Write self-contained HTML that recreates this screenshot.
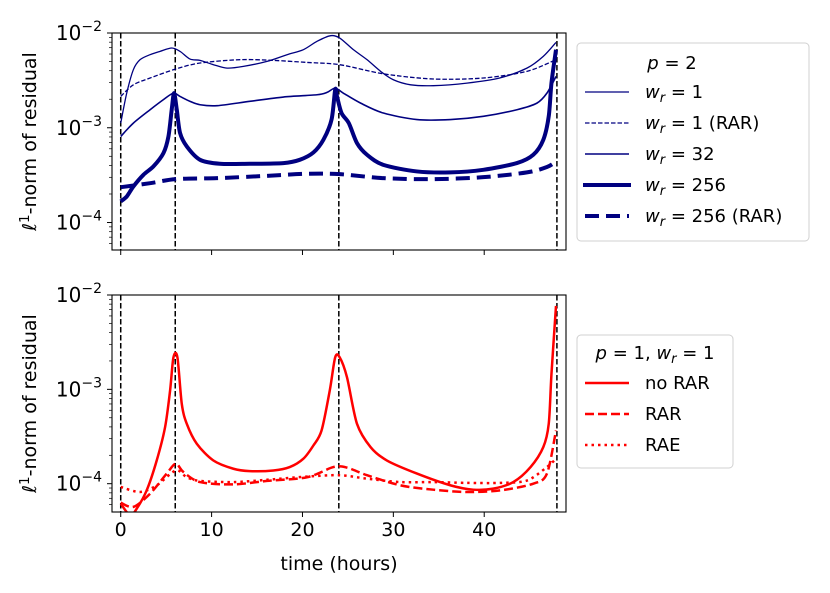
<!DOCTYPE html>
<html><head><meta charset="utf-8"><style>
html,body{margin:0;padding:0;background:#fff;}
svg{display:block;font-family:"DejaVu Sans","Liberation Sans",sans-serif;}
</style></head><body>
<svg id="chart" width="830" height="593" viewBox="0 0 830 593" xmlns="http://www.w3.org/2000/svg"></svg>
<script>
// ---- data (time in hours, residual values) ----
const vlines = [0, 6, 24, 48];
const xTicks = [0, 10, 20, 30, 40];
const yDecades = [-4, -3, -2];

const aH = [0,0.66,1.39,2.13,3.23,4.33,5.61,6.53,7.63,8.73,10.2,11.7,13.5,16.1,18.3,20.1,21.6,23.1,24.1,25.6,27.1,28.6,30.0,31.9,34.4,38.1,41.7,44.7,46.5,47.9];
const aV = [1.12e-3,2.32e-3,4.10e-3,5.23e-3,5.90e-3,6.40e-3,6.95e-3,6.40e-3,5.31e-3,5.14e-3,4.63e-3,4.26e-3,4.44e-3,5.02e-3,5.90e-3,6.67e-3,8.17e-3,9.37e-3,8.85e-3,6.67e-3,5.23e-3,3.94e-3,3.21e-3,2.84e-3,2.78e-3,2.96e-3,3.35e-3,4.26e-3,5.67e-3,7.96e-3];
const bH = [0,1.39,3.23,6.06,8.73,13.1,16.8,20.5,24.1,28.9,34.4,39.9,44.7,47.9];
const bV = [2.14e-3,2.84e-3,3.35e-3,4.17e-3,4.82e-3,5.23e-3,5.14e-3,4.89e-3,4.63e-3,3.71e-3,3.27e-3,3.35e-3,3.94e-3,5.23e-3];
const cH = [0,1.39,3.23,4.70,5.80,6.53,7.63,8.73,10.6,14.2,17.9,21.6,22.7,23.6,24.5,26.4,28.9,32.6,36.3,39.9,43.6,45.8,46.9,47.9];
const cV = [8.09e-4,1.12e-3,1.55e-3,1.98e-3,2.32e-3,2.14e-3,1.90e-3,1.75e-3,1.71e-3,1.90e-3,2.11e-3,2.23e-3,2.36e-3,2.62e-3,2.32e-3,1.82e-3,1.43e-3,1.22e-3,1.22e-3,1.32e-3,1.55e-3,1.82e-3,2.32e-3,3.48e-3];
const dH = [0,0.66,1.39,2.50,3.60,4.70,5.25,5.61,5.87,6.17,6.53,7.27,8.73,10.9,14.2,17.9,19.7,21.2,22.3,23.2,23.6,23.8,24.3,25.1,26.0,27.1,28.9,32.6,36.3,39.9,43.6,45.4,46.5,47.1,47.4,47.9];
const dV = [1.67e-4,1.88e-4,2.40e-4,3.19e-4,3.91e-4,5.40e-4,8.09e-4,1.55e-3,2.32e-3,1.55e-3,8.80e-4,6.35e-4,4.59e-4,4.17e-4,4.17e-4,4.24e-4,4.59e-4,5.48e-4,7.46e-4,1.22e-3,2.52e-3,2.14e-3,1.43e-3,1.12e-3,6.89e-4,5.19e-4,4.06e-4,3.46e-4,3.38e-4,3.60e-4,4.24e-4,5.19e-4,7.46e-4,1.32e-3,2.96e-3,6.67e-3];
const eH = [0,3.23,6.06,10.6,16.1,20.5,24.1,28.9,34.4,39.9,44.7,46.9,47.9];
const eV = [2.36e-4,2.60e-4,2.87e-4,2.94e-4,3.11e-4,3.27e-4,3.24e-4,2.94e-4,2.87e-4,3.01e-4,3.38e-4,3.85e-4,4.41e-4];

const nrH = [0,1.03,1.76,2.86,3.96,4.88,5.43,5.80,6.24,6.72,7.27,8.37,10.2,12.4,14.2,16.8,18.6,20.1,21.2,22.1,23.0,23.6,24.1,24.9,26.0,27.5,29.3,32.6,36.3,38.8,41.0,43.2,45.1,46.5,47.1,47.4,47.9];
const nrV = [6.15e-5,4.62e-5,5.44e-5,8.51e-5,1.76e-4,3.97e-4,9.68e-4,2.18e-3,2.18e-3,7.00e-4,4.31e-4,2.65e-4,1.76e-4,1.44e-4,1.36e-4,1.38e-4,1.50e-4,1.84e-4,2.54e-4,3.66e-4,9.68e-4,2.18e-3,2.18e-3,1.34e-3,4.31e-4,2.44e-4,1.76e-4,1.28e-4,9.60e-5,8.64e-5,8.86e-5,1.04e-4,1.50e-4,2.44e-4,4.31e-4,1.45e-3,7.66e-3];
const rarH = [0,1.39,3.23,5.06,6.06,6.90,8.73,12.4,16.1,20.5,23.4,24.9,27.1,30.8,34.4,38.1,41.8,45.4,46.9,47.9];
const rarV = [6.30e-5,5.68e-5,7.84e-5,1.28e-4,1.63e-4,1.33e-4,1.04e-4,9.84e-5,1.07e-4,1.17e-4,1.50e-4,1.48e-4,1.23e-4,9.60e-5,8.64e-5,8.17e-5,8.51e-5,1.00e-4,1.28e-4,3.66e-4];
const raeH = [0,2.13,3.96,6.06,7.27,8.73,12.4,16.1,20.5,24.1,27.1,30.8,34.4,38.1,41.8,44.7,46.9,47.9];
const raeV = [9.23e-5,8.17e-5,9.60e-5,1.38e-4,1.17e-4,1.07e-4,1.04e-4,1.10e-4,1.19e-4,1.23e-4,1.13e-4,1.04e-4,1.04e-4,1.02e-4,1.02e-4,1.08e-4,1.50e-4,1.84e-4];

const NS = 'http://www.w3.org/2000/svg';
const svg = document.getElementById('chart');
function mk(tag, attrs, parent){const e=document.createElementNS(NS,tag);for(const k in attrs)e.setAttribute(k,attrs[k]);(parent||svg).appendChild(e);return e;}

const X0 = 112, X1 = 566, H0 = -0.96, H1 = 49.0;
function sx(h){return X0 + (h - H0) / (H1 - H0) * (X1 - X0);}
function makeY(top, bottom, logTop, logBottom){return v => top + (logTop - Math.log10(v)) / (logTop - logBottom) * (bottom - top);}
const panels = [
  {top:33, bottom:250, lt:-2, lb:-4.29, name:'top-panel', labels:false},
  {top:295, bottom:512, lt:-2, lb:-4.30, name:'bottom-panel', labels:true}
];

panels.forEach((p, pi) => {
  const sy = makeY(p.top, p.bottom, p.lt, p.lb);
  p.sy = sy;
  const g = mk('g', {});
  
  
  const cp = mk('clipPath', {id:'clip'+pi}, g);
  mk('rect', {x:X0, y:p.top, width:X1-X0, height:p.bottom-p.top}, cp);
  p.plot = mk('g', {'clip-path':'url(#clip'+pi+')'}, g);
  vlines.forEach(h => {
    const l = mk('line', {x1:sx(h), x2:sx(h), y1:p.top, y2:p.bottom, stroke:'#000', 'stroke-width':1.5, 'stroke-dasharray':'5.5,2.5'}, p.plot);
    
    
  });
  const fr = mk('rect', {x:X0, y:p.top, width:X1-X0, height:p.bottom-p.top, fill:'none', stroke:'#000', 'stroke-width':1.1}, g);
  
  
  xTicks.forEach(t => {
    mk('line', {x1:sx(t), x2:sx(t), y1:p.bottom, y2:p.bottom+5, stroke:'#000', 'stroke-width':1}, g);
    if (p.labels) {
      const tx = mk('text', {x:sx(t), y:p.bottom+24, 'font-size':19, 'text-anchor':'middle'}, g);
      tx.textContent = t;
      
      
    }
  });
  for (let d = -5; d <= -2; d++) {
    for (let m = 1; m <= 9; m++) {
      const v = m * Math.pow(10, d);
      const lv = Math.log10(v);
      if (lv > p.lt + 1e-9 || lv < p.lb) continue;
      const y = sy(v);
      mk('line', {x1:X0-(m===1?5:3), x2:X0, y1:y, y2:y, stroke:'#000', 'stroke-width':m===1?1:0.7}, g);
    }
  }
  yDecades.forEach(d => {
    const y = sy(Math.pow(10, d));
    const tx = mk('text', {x:X0-10, y:y+7, 'font-size':20, 'text-anchor':'end'}, g);
    
    
    const a = mk('tspan', {}, tx); a.textContent = '10';
    const b = mk('tspan', {dy:-9, 'font-size':14}, tx); b.textContent = '\u2212' + (-d);
  });
  const cy = (p.top + p.bottom) / 2;
  const yl = mk('text', {x:0, y:0, 'font-size':19, 'text-anchor':'middle', transform:'translate(36,'+cy+') rotate(-90)'}, g);
  
  
  const s1 = mk('tspan', {'font-style':'italic'}, yl); s1.textContent = 'ℓ';
  const s2 = mk('tspan', {dy:-7, 'font-size':13.5}, yl); s2.textContent = '1';
  const s3 = mk('tspan', {dy:7}, yl); s3.textContent = '-norm of residual';
});

function smoothPath(P){
  let d = 'M' + P[0][0].toFixed(2) + ',' + P[0][1].toFixed(2);
  for (let i = 0; i < P.length - 1; i++) {
    const p0 = P[i-1] || P[i], p1 = P[i], p2 = P[i+1], p3 = P[i+2] || P[i+1];
    const t = 0.15;
    const c1 = [p1[0] + (p2[0]-p0[0])*t, p1[1] + (p2[1]-p0[1])*t];
    const c2 = [p2[0] - (p3[0]-p1[0])*t, p2[1] - (p3[1]-p1[1])*t];
    d += ' C' + c1.map(v=>v.toFixed(2)).join(',') + ' ' + c2.map(v=>v.toFixed(2)).join(',') + ' ' + p2[0].toFixed(2) + ',' + p2[1].toFixed(2);
  }
  return d;
}
function series(panel, hs, vs, attrs, name){
  const P = hs.map((h,i) => [sx(h), panel.sy(vs[i])]);
  const pl = mk('path', Object.assign({d:smoothPath(P), fill:'none', 'stroke-linejoin':'round'}, attrs), panel.plot);
  
  
}
const navy = '#000080', red = '#ff0000';
series(panels[0], aH, aV, {stroke:navy, 'stroke-width':1.3}, 'series-wr1');
series(panels[0], bH, bV, {stroke:navy, 'stroke-width':1.3, 'stroke-dasharray':'4.5,2'}, 'series-wr1-rar');
series(panels[0], cH, cV, {stroke:navy, 'stroke-width':1.6}, 'series-wr32');
series(panels[0], dH, dV, {stroke:navy, 'stroke-width':4}, 'series-wr256');
series(panels[0], eH, eV, {stroke:navy, 'stroke-width':4, 'stroke-dasharray':'14,7'}, 'series-wr256-rar');
series(panels[1], nrH, nrV, {stroke:red, 'stroke-width':2.5}, 'series-no-rar');
series(panels[1], rarH, rarV, {stroke:red, 'stroke-width':2.5, 'stroke-dasharray':'9,4'}, 'series-rar');
series(panels[1], raeH, raeV, {stroke:red, 'stroke-width':2.5, 'stroke-dasharray':'2.5,4'}, 'series-rae');

const xt = mk('text', {x:339, y:570, 'font-size':19, 'text-anchor':'middle'});
xt.textContent = 'time (hours)';


</script>

<svg style="position:absolute;left:0;top:0" width="830" height="593" xmlns="http://www.w3.org/2000/svg" font-family="DejaVu Sans, Liberation Sans, sans-serif">
  <g>
    <rect x="577" y="43" width="232" height="198" rx="4" fill="#fff" stroke="#d0d0d0" stroke-width="1"/>
    <text x="672" y="69" font-size="18" text-anchor="middle"><tspan font-style="italic">p</tspan> = 2</text>
    <g>
      <line x1="585" y1="92" x2="629" y2="92" stroke="#000080" stroke-width="1.3"/>
      <text x="645" y="98" font-size="18"><tspan font-style="italic">w</tspan><tspan font-style="italic" font-size="13" dy="4">r</tspan><tspan dy="-4"> = 1</tspan></text>
    </g>
    <g>
      <line x1="585" y1="123" x2="629" y2="123" stroke="#000080" stroke-width="1.3" stroke-dasharray="4.5,2"/>
      <text x="645" y="129" font-size="18"><tspan font-style="italic">w</tspan><tspan font-style="italic" font-size="13" dy="4">r</tspan><tspan dy="-4"> = 1 (RAR)</tspan></text>
    </g>
    <g>
      <line x1="585" y1="154" x2="629" y2="154" stroke="#000080" stroke-width="1.6"/>
      <text x="645" y="160" font-size="18"><tspan font-style="italic">w</tspan><tspan font-style="italic" font-size="13" dy="4">r</tspan><tspan dy="-4"> = 32</tspan></text>
    </g>
    <g>
      <line x1="583" y1="185" x2="631" y2="185" stroke="#000080" stroke-width="4"/>
      <text x="645" y="191" font-size="18"><tspan font-style="italic">w</tspan><tspan font-style="italic" font-size="13" dy="4">r</tspan><tspan dy="-4"> = 256</tspan></text>
    </g>
    <g>
      <line x1="585" y1="216" x2="629" y2="216" stroke="#000080" stroke-width="4" stroke-dasharray="14,7"/>
      <text x="645" y="222" font-size="18"><tspan font-style="italic">w</tspan><tspan font-style="italic" font-size="13" dy="4">r</tspan><tspan dy="-4"> = 256 (RAR)</tspan></text>
    </g>
  </g>
  <g>
    <rect x="577" y="335" width="156" height="133" rx="4" fill="#fff" stroke="#d0d0d0" stroke-width="1"/>
    <text x="655" y="359" font-size="18" text-anchor="middle"><tspan font-style="italic">p</tspan> = 1, <tspan font-style="italic">w</tspan><tspan font-style="italic" font-size="13" dy="4">r</tspan><tspan dy="-4"> = 1</tspan></text>
    <g>
      <line x1="585" y1="383" x2="629" y2="383" stroke="#ff0000" stroke-width="2.5"/>
      <text x="645" y="389" font-size="18">no RAR</text>
    </g>
    <g>
      <line x1="585" y1="414" x2="629" y2="414" stroke="#ff0000" stroke-width="2.5" stroke-dasharray="9,4"/>
      <text x="645" y="420" font-size="18">RAR</text>
    </g>
    <g>
      <line x1="585" y1="445" x2="629" y2="445" stroke="#ff0000" stroke-width="2.5" stroke-dasharray="2.5,4"/>
      <text x="645" y="451" font-size="18">RAE</text>
    </g>
  </g>
</svg>
</body></html>
